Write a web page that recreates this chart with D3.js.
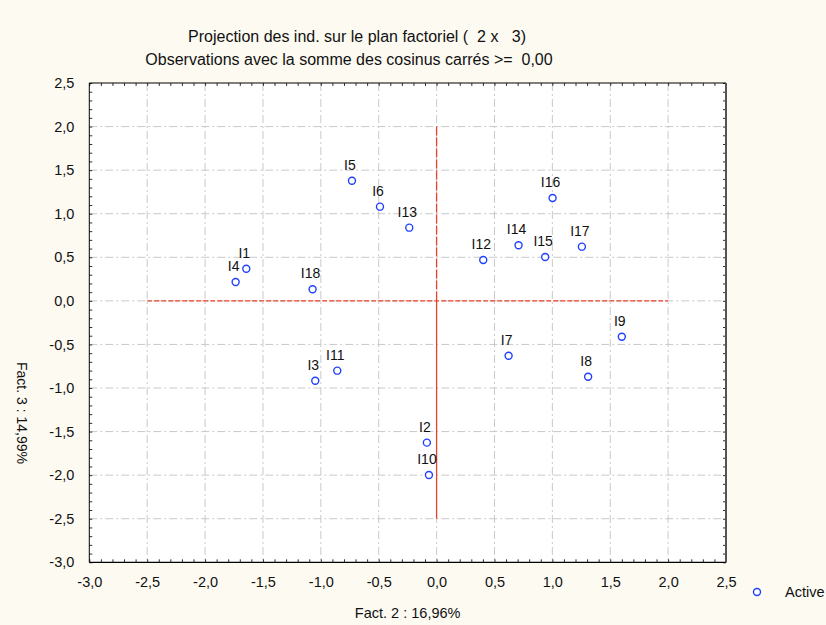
<!DOCTYPE html>
<html><head><meta charset="utf-8">
<script src="https://cdn.jsdelivr.net/npm/d3@7"></script>
<style>
html,body{margin:0;padding:0;background:#fdfaf1;overflow:hidden;}
svg{display:block;font-family:"Liberation Sans",Arial,sans-serif;}
svg text{white-space:pre;}
</style></head><body>
<svg id="c" width="826" height="625"></svg>
<script>
const labels = ["I1","I2","I3","I4","I5","I6","I7","I8","I9","I10","I11","I12","I13","I14","I15","I16","I17","I18"];
const fact2 = [-1.644,-0.084,-1.048,-1.736,-0.731,-0.489,0.622,1.309,1.600,-0.066,-0.858,0.403,-0.236,0.708,0.938,1.002,1.255,-1.071];
const fact3 = [0.369,-1.627,-0.916,0.217,1.379,1.081,-0.629,-0.870,-0.411,-1.998,-0.801,0.469,0.840,0.638,0.503,1.180,0.622,0.133];
const xTicks = [-3.0,-2.5,-2.0,-1.5,-1.0,-0.5,0.0,0.5,1.0,1.5,2.0,2.5];
const yTicks = [2.5,2.0,1.5,1.0,0.5,0.0,-0.5,-1.0,-1.5,-2.0,-2.5,-3.0];
const titleLines = ["Projection des ind. sur le plan factoriel (  2 x   3)","Observations avec la somme des cosinus carrés >=  0,00"];
const xTitle = "Fact. 2 : 16,96%";
const yTitle = "Fact. 3 : 14,99%";
const legendLabel = "Active";

const svg = d3.select("#c");
const L=89.3, R=726, T=83, B=562.3;
const x = d3.scaleLinear().domain([-3,2.5]).range([L,R]);
const y = d3.scaleLinear().domain([-3,2.5]).range([B,T]);
const fmt = v => d3.format(".1f")(v).replace(".",",").replace("−","-");
const FF = "Liberation Sans, Arial, sans-serif";

svg.append("rect").attr("x",L).attr("y",T).attr("width",R-L).attr("height",B-T).attr("fill","#fff");

// grid
const g = svg.append("g");
xTicks.slice(1,-1).forEach(v=>{
  g.append("line").attr("x1",x(v)).attr("x2",x(v)).attr("y1",T).attr("y2",B)
   .attr("stroke","#c9c9c9").attr("stroke-width",1).attr("stroke-dasharray","8,3,2,3");
});
yTicks.slice(1,-1).forEach(v=>{
  g.append("line").attr("x1",L).attr("x2",R).attr("y1",y(v)).attr("y2",y(v))
   .attr("stroke","#c9c9c9").attr("stroke-width",1).attr("stroke-dasharray","8,3,2,3");
});

// red reference lines
svg.append("line").attr("x1",x(-2.5)).attr("x2",x(2.0)).attr("y1",y(0)).attr("y2",y(0))
  .attr("stroke","#e8412a").attr("stroke-width",1.3).attr("stroke-dasharray","5,2");
svg.append("line").attr("x1",x(0)).attr("x2",x(0)).attr("y1",y(2.0)).attr("y2",y(0))
  .attr("stroke","#e8412a").attr("stroke-width",1.3).attr("stroke-dasharray","9,2");
svg.append("line").attr("x1",x(0)).attr("x2",x(0)).attr("y1",y(0)).attr("y2",y(-2.5))
  .attr("stroke","#e8412a").attr("stroke-width",1.3);

// axes with inward ticks
const minorX = d3.range(-30,26).map(d=>d/10);
const minorY = d3.range(-30,26).map(d=>d/10);
const axB = d3.axisTop(x).tickValues(minorX).tickSize(3).tickFormat("");
const axT = d3.axisBottom(x).tickValues(minorX).tickSize(3).tickFormat("");
const axL = d3.axisRight(y).tickValues(minorY).tickSize(3).tickFormat("");
const axR = d3.axisLeft(y).tickValues(minorY).tickSize(3).tickFormat("");
[[axB,`translate(0,${B})`],[axT,`translate(0,${T})`],[axL,`translate(${L},0)`],[axR,`translate(${R},0)`]].forEach(([a,t])=>{
  const gg = svg.append("g").attr("transform",t).call(a);
  gg.select(".domain").remove();
  gg.selectAll("line").attr("stroke","#333");
});
svg.append("line").attr("x1",L).attr("x2",R).attr("y1",T).attr("y2",T).attr("stroke","#000");
svg.append("line").attr("x1",L).attr("x2",R).attr("y1",B).attr("y2",B).attr("stroke","#000").attr("stroke-width",1.3);
svg.append("line").attr("x1",L).attr("x2",L).attr("y1",T).attr("y2",B).attr("stroke","#000");
svg.append("line").attr("x1",R).attr("x2",R).attr("y1",T).attr("y2",B).attr("stroke","#555").attr("stroke-width",2);

// tick labels
const lblX = d3.axisBottom(x).tickValues(xTicks).tickSize(0).tickPadding(0).tickFormat(fmt);
const gx = svg.append("g").attr("transform",`translate(0,${B+14})`).call(lblX);
gx.select(".domain").remove();
gx.selectAll("text").attr("font-size",14.5).attr("fill","#111").attr("font-family",FF);
const lblY = d3.axisLeft(y).tickValues(yTicks).tickSize(0).tickPadding(15).tickFormat(fmt);
const gy = svg.append("g").attr("transform",`translate(${L},0)`).call(lblY);
gy.select(".domain").remove();
gy.selectAll("text").attr("font-size",14.5).attr("fill","#111").attr("font-family",FF);

// titles
svg.append("text").attr("x",357).attr("y",42).attr("text-anchor","middle").attr("font-size",16).attr("fill","#111").text(titleLines[0]);
svg.append("text").attr("x",349).attr("y",65).attr("text-anchor","middle").attr("font-size",16).attr("fill","#111").text(titleLines[1]);
svg.append("text").attr("x",(L+R)/2).attr("y",618).attr("text-anchor","middle").attr("font-size",14.5).attr("fill","#111").text(xTitle);
svg.append("text").attr("transform","translate(17,413) rotate(90)").attr("text-anchor","middle").attr("font-size",14).attr("fill","#111").text(yTitle);

// points
const data = labels.map((l,i)=>({l,a:fact2[i],b:fact3[i]}));
svg.append("g").selectAll("circle").data(data).join("circle")
  .attr("cx",d=>x(d.a)).attr("cy",d=>y(d.b)).attr("r",3.5)
  .attr("fill","#fff").attr("stroke","#2040ff").attr("stroke-width",1.4);
svg.append("g").selectAll("text").data(data).join("text")
  .attr("x",d=>x(d.a)-2).attr("y",d=>y(d.b)-11).attr("text-anchor","middle")
  .attr("font-size",14).attr("fill","#111").text(d=>d.l);

// legend
svg.append("circle").attr("cx",757).attr("cy",592).attr("r",3.5).attr("fill","#fff").attr("stroke","#2040ff").attr("stroke-width",1.4);
svg.append("text").attr("x",785).attr("y",597).attr("font-size",14.5).attr("fill","#111").text(legendLabel);
</script>
</body></html>
